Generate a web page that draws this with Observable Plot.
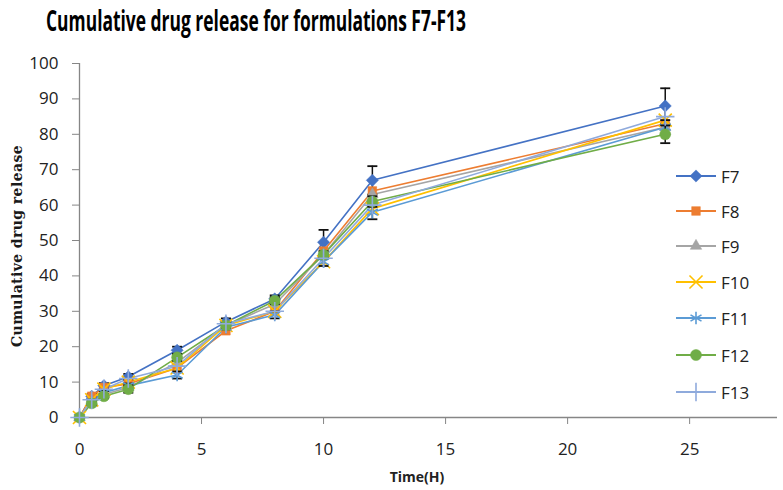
<!DOCTYPE html>
<html>
<head>
<meta charset="utf-8">
<script src="https://cdn.jsdelivr.net/npm/d3@7"></script>
<script src="https://cdn.jsdelivr.net/npm/@observablehq/plot@0.6"></script>
<style>
  body { margin: 0; background: #fff; width: 783px; height: 490px; overflow: hidden; position: relative; font-family: "Open Sans", sans-serif; }
  #title { position: absolute; left: 0; top: 0; }
  #chart { position: absolute; left: 0; top: 45px; }
  #legend { position: absolute; left: 676px; top: 0; }
  .row { position: absolute; left: 0; display: flex; align-items: center; height: 20px; font-size: 17px; color: #222; white-space: nowrap; }
  .row svg { margin-right: 5px; }
</style>
</head>
<body>
<div id="title"></div>
<div id="chart"></div>
<div id="legend"></div>
<script>
const time = [0, 0.5, 1, 2, 4, 6, 8, 10, 12, 24];
const seriesNames = ["F7", "F8", "F9", "F10", "F11", "F12", "F13"];
const F7  = [0, 6.0, 9.0, 11.5, 19.0, 27.0, 33.5, 49.5, 67.0, 88.0];
const F8  = [0, 6.0, 8.5, 9.5, 14.0, 24.5, 30.0, 47.0, 64.0, 83.0];
const F9  = [0, 4.0, 6.5, 8.5, 15.5, 26.0, 32.0, 46.0, 63.0, 82.0];
const F10 = [0, 5.0, 8.0, 10.0, 14.0, 26.0, 30.0, 44.0, 59.0, 84.0];
const F11 = [0, 4.5, 7.0, 9.0, 12.0, 25.5, 29.0, 44.0, 58.0, 82.0];
const F12 = [0, 4.0, 6.0, 8.0, 17.0, 26.0, 33.0, 46.0, 61.0, 80.0];
const F13 = [0, 5.0, 8.0, 11.0, 14.5, 26.5, 30.0, 45.0, 60.0, 85.0];
const sdF7  = [0, 0.6, 0.7, 0.8, 1.0, 1.0, 1.0, 3.5, 4.0, 5.0];
const sdF11 = [0, 0.5, 0.5, 0.6, 1.0, 0.6, 1.0, 1.2, 2.0, 2.0];
const sdF12 = [0, 0.5, 0.6, 1.0, 1.0, 0.6, 1.0, 1.0, 1.5, 2.5];
const xTicks = [0, 5, 10, 15, 20, 25];
const yTicks = [0, 10, 20, 30, 40, 50, 60, 70, 80, 90, 100];

const values = {F7, F8, F9, F10, F11, F12, F13};
const colors = ["#4472C4", "#ED7D31", "#A5A5A5", "#FFC000", "#5B9BD5", "#70AD47", "#8FAADC"];
const symbols = ["diamond2", "square2", "triangle2", "times", "asterisk", "circle", "plus"];
const filled = [true, true, true, false, false, true, false];

const data = [];
seriesNames.forEach((s, i) => time.forEach((t, j) => data.push({series: s, idx: i, t, v: values[s][j]})));
const sds = {F7: sdF7, F11: sdF11, F12: sdF12};
const err = [];
Object.keys(sds).forEach(s => time.forEach((t, j) => {
  if (sds[s][j] > 0) err.push({series: s, t, lo: values[s][j] - sds[s][j], hi: values[s][j] + sds[s][j]});
}));

const cap = { draw(ctx, size) { const r = Math.sqrt(size / Math.PI); ctx.moveTo(-r, 0); ctx.lineTo(r, 0); } };

// title
const tsvg = d3.select("#title").append("svg").attr("width", 783).attr("height", 45);
tsvg.append("text").attr("x", 46).attr("y", 31)
  .attr("font-family", "Open Sans").attr("font-weight", 700).attr("font-size", 29)
  .attr("textLength", 420).attr("lengthAdjust", "spacingAndGlyphs").attr("fill", "#000")
  .text("Cumulative drug release for formulations F7-F13");

const marks = [
  Plot.ruleY([0], {stroke: "#868686", strokeWidth: 1.3}),
  Plot.ruleX([0], {stroke: "#868686", strokeWidth: 1.3}),
  Plot.axisY({ticks: yTicks, tickSize: 7, tickPadding: 14, stroke: "#868686", fontSize: 17, fill: "#222", label: null}),
  Plot.axisX({ticks: xTicks, tickSize: 7, tickPadding: 18, stroke: "#868686", fontSize: 17, fill: "#222", label: null}),
];
seriesNames.forEach((s, i) => {
  const d = data.filter(r => r.series === s);
  marks.push(Plot.line(d, {x: "t", y: "v", stroke: colors[i], strokeWidth: 1.6}));
});
seriesNames.forEach((s, i) => {
  const d = data.filter(r => r.series === s);
  const e = err.filter(r => r.series === s);
  if (e.length) {
    marks.push(Plot.ruleX(e, {x: "t", y1: "lo", y2: "hi", stroke: "#111", strokeWidth: 1.5}));
    marks.push(Plot.dot(e, {x: "t", y: "lo", symbol: cap, r: 5, stroke: "#111", strokeWidth: 1.8}));
    marks.push(Plot.dot(e, {x: "t", y: "hi", symbol: cap, r: 5, stroke: "#111", strokeWidth: 1.8}));
  }
  marks.push(Plot.dot(d, {x: "t", y: "v", symbol: symbols[i], r: filled[i] ? 5.5 : 6,
    fill: filled[i] ? colors[i] : "none", stroke: colors[i], strokeWidth: filled[i] ? 0.5 : 1.6}));
});

const plot = Plot.plot({
  width: 783, height: 445,
  marginLeft: 79, marginRight: 6, marginTop: 18, marginBottom: 73,
  style: {fontFamily: "Open Sans", background: "#fff"},
  x: {domain: [0, 28.6]},
  y: {domain: [0, 100]},
  marks
});
document.getElementById("chart").appendChild(plot);

// axis titles
const svg = d3.select(plot);
svg.append("text").attr("transform", "translate(22,201) rotate(-90)")
  .attr("text-anchor", "middle").attr("font-family", "DejaVu Serif").attr("font-weight", 700)
  .attr("font-size", 14).attr("letter-spacing", 0.4).attr("fill", "#1a1a1a").text("Cumulative drug release");
svg.append("text").attr("x", 417).attr("y", 437)
  .attr("text-anchor", "middle").attr("font-family", "Open Sans").attr("font-weight", 700)
  .attr("font-size", 14).attr("fill", "#222").text("Time(H)");

// legend
const rowsY = [176, 211, 246, 282, 318, 355, 392];
const leg = d3.select("#legend");
seriesNames.forEach((s, i) => {
  const row = leg.append("div").attr("class", "row").style("top", (rowsY[i] - 10) + "px");
  const sv = row.append("svg").attr("width", 40).attr("height", 20);
  sv.append("line").attr("x1", 0).attr("x2", 40).attr("y1", 10).attr("y2", 10).attr("stroke", colors[i]).attr("stroke-width", 1.8);
  const typeMap = {diamond2: d3.symbolDiamond2, square2: d3.symbolSquare2, triangle2: d3.symbolTriangle2,
    times: d3.symbolTimes, asterisk: d3.symbolAsterisk, circle: d3.symbolCircle, plus: d3.symbolPlus};
  const r = filled[i] ? 5.5 : 6;
  sv.append("path").attr("transform", "translate(20,10)")
    .attr("d", d3.symbol(typeMap[symbols[i]], Math.PI * r * r)())
    .attr("fill", filled[i] ? colors[i] : "none").attr("stroke", colors[i]).attr("stroke-width", filled[i] ? 0.5 : 1.6);
  row.append("span").text(s);
});
</script>
</body>
</html>
